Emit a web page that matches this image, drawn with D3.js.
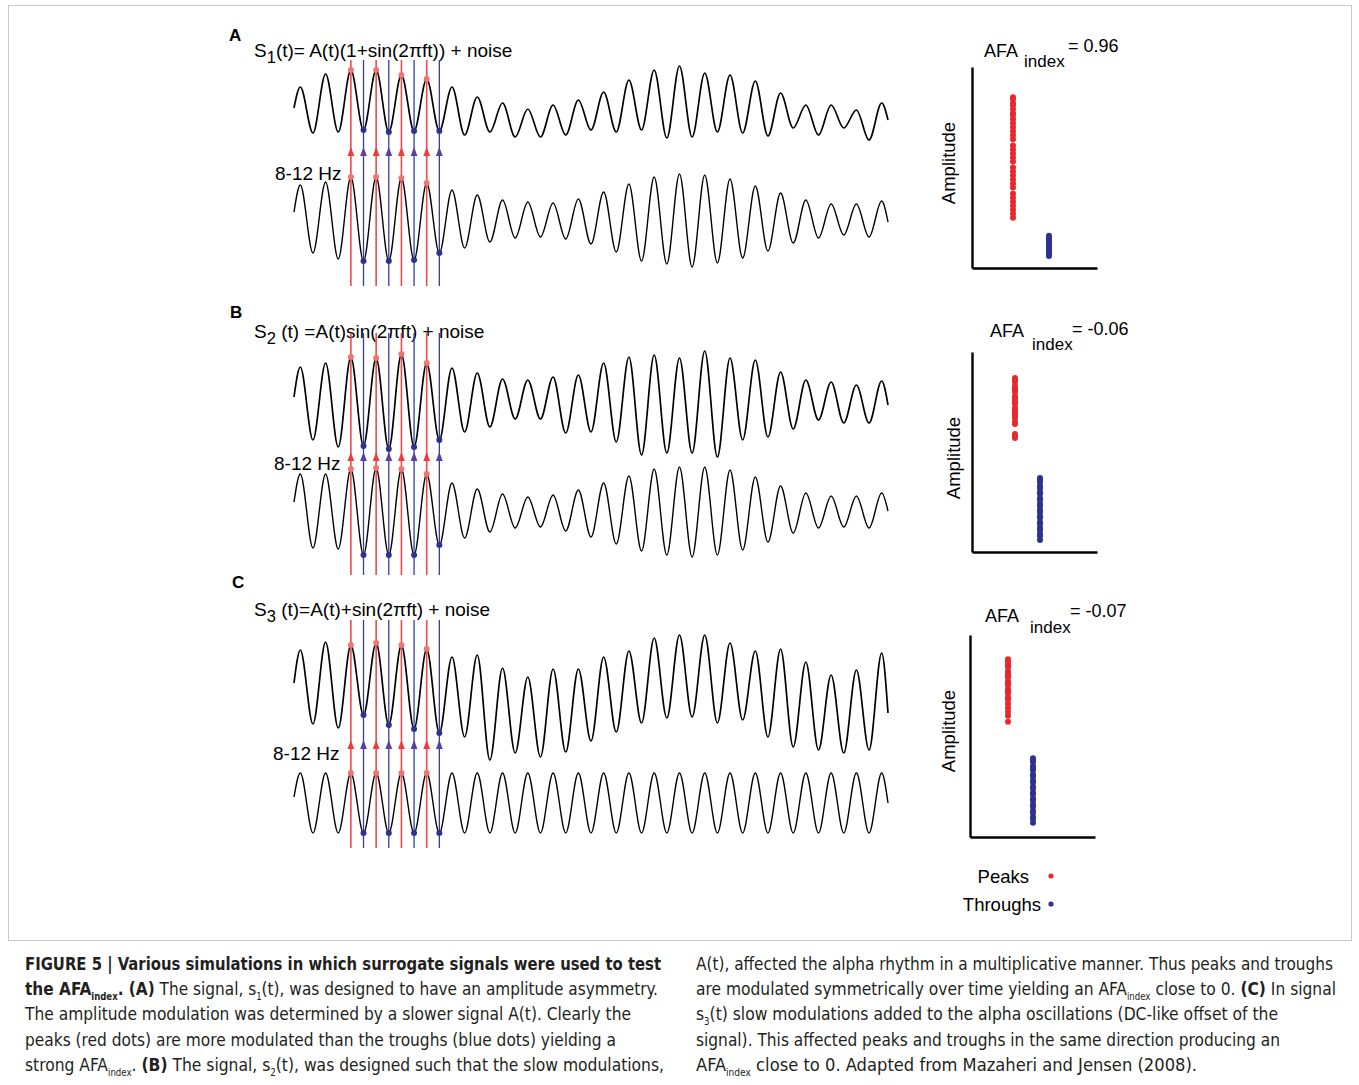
<!DOCTYPE html>
<html>
<head>
<meta charset="utf-8">
<script src="https://cdn.jsdelivr.net/npm/d3@7"></script>
<style>
  body { margin: 0; background: #fff; }
  svg { display: block; font-family: "Liberation Sans", Arial, sans-serif; }
</style>
</head>
<body>
<svg id="fig" width="1359" height="1085"></svg>
<script>
// cycles whose peak (k) and trough (k + 0.5) are marked
var markedCycles = [2, 3, 4, 5]

// signal extrema: peaks at cycle k, troughs at k + 0.5, ends = [start, end]
var rawA_peaks   = [2.3, 3.6, 4.0, 4.0, 3.5, 3.1, 2.3, 1.3, 0.7, 0.1, 0.5, 1.0, 1.8, 3.0, 4.0, 4.4, 3.7, 3.5, 2.9, 1.7, 0.5, 0.5, 0.0, 0.7]
var rawA_troughs = [-2.3, -2.2, -2.0, -2.2, -2.1, -2.1, -2.5, -2.2, -2.7, -2.7, -2.5, -2.0, -2.2, -2.0, -2.8, -2.7, -2.2, -2.3, -2.6, -1.8, -2.5, -1.8, -3.0]
var rawA_ends    = [0.2, -1.0]
var filtA_peaks   = [3.5, 3.8, 4.3, 4.3, 4.2, 3.7, 3.0, 2.5, 2.0, 1.8, 1.7, 2.1, 2.8, 3.6, 4.3, 4.6, 4.5, 4.1, 3.4, 2.7, 2.0, 1.6, 1.6, 1.9]
var filtA_troughs = [-3.3, -3.9, -4.1, -4.1, -4.0, -3.3, -2.8, -2.2, -1.8, -1.7, -1.9, -2.4, -3.2, -4.1, -4.4, -4.7, -4.3, -3.8, -3.1, -2.3, -1.8, -1.5, -1.7]
var filtA_ends    = [0.8, -0.2]

var rawB_peaks   = [3.8, 4.2, 4.8, 4.7, 5.1, 4.2, 3.7, 3.2, 2.6, 2.5, 2.8, 3.0, 4.2, 4.8, 5.0, 4.7, 5.4, 4.7, 4.5, 3.3, 2.5, 2.3, 2.0, 2.4]
var rawB_troughs = [-3.5, -4.2, -4.1, -4.4, -4.2, -3.5, -2.7, -2.2, -1.4, -1.4, -2.8, -2.7, -3.7, -5.0, -4.8, -4.8, -5.2, -3.5, -3.2, -2.4, -1.5, -1.8, -1.8]
var rawB_ends    = [0.8, 0.0]
var filtB_peaks   = [3.8, 3.8, 4.3, 4.4, 4.3, 3.8, 2.9, 2.3, 1.8, 1.5, 1.7, 2.2, 2.9, 3.6, 4.3, 4.5, 4.5, 4.2, 3.5, 2.6, 1.9, 1.6, 1.6, 1.9]
var filtB_troughs = [-3.6, -3.7, -4.3, -4.3, -4.3, -3.3, -2.6, -2.0, -1.6, -1.5, -1.9, -2.5, -3.2, -3.9, -4.3, -4.5, -4.3, -3.8, -3.0, -2.1, -1.6, -1.5, -1.6]
var filtB_ends    = [1.0, 0.1]

var rawC_peaks   = [5.0, 5.8, 5.5, 5.7, 5.5, 5.1, 4.3, 4.5, 3.2, 2.3, 3.1, 3.1, 4.3, 4.9, 6.2, 6.5, 6.5, 5.7, 4.9, 5.1, 3.8, 2.5, 3.0, 4.7]
var rawC_troughs = [-2.4, -2.8, -1.5, -2.5, -2.9, -3.3, -3.7, -6.0, -5.3, -5.7, -5.2, -4.1, -3.2, -2.3, -1.8, -1.7, -2.3, -2.0, -3.7, -4.7, -5.0, -5.3, -5.0]
var rawC_ends    = [1.7, -1.3]
var filtC_peaks   = [3.0, 3.0, 3.0, 3.0, 3.0, 3.0, 3.0, 3.0, 3.0, 3.0, 3.0, 3.0, 3.0, 3.0, 3.0, 3.0, 3.0, 3.0, 3.0, 3.0, 3.0, 3.0, 3.0, 3.0]
var filtC_troughs = [-3.0, -3.0, -3.0, -3.0, -3.0, -3.0, -3.0, -3.0, -3.0, -3.0, -3.0, -3.0, -3.0, -3.0, -3.0, -3.0, -3.0, -3.0, -3.0, -3.0, -3.0, -3.0, -3.0]
var filtC_ends    = [0.6, 0.0]

// amplitude scatter (0-100 of the axis height)
var scatA_peaks    = [85, 84, 82, 81, 79, 77, 76, 74, 72, 70, 68, 66, 64, 61, 59, 57, 55, 53, 50, 48, 46, 44, 42, 40, 37, 35, 33, 31, 29, 27, 25]
var scatA_throughs = [16, 15, 14, 13, 12, 11, 10, 9, 8, 7, 6]
var scatB_peaks    = [87, 86, 85, 83, 82, 81, 80, 78, 77, 76, 75, 74, 72, 71, 70, 69, 68, 67, 65, 64, 59, 58, 57]
var scatB_throughs = [37, 36, 35, 33, 32, 30, 29, 27, 26, 24, 23, 21, 20, 18, 17, 15, 14, 12, 11, 9, 8, 6]
var scatC_peaks    = [88, 87, 86, 85, 84, 82, 81, 80, 79, 77, 76, 75, 73, 72, 71, 69, 68, 66, 64, 62, 60, 57]
var scatC_throughs = [39, 38, 37, 35, 34, 33, 31, 30, 28, 27, 25, 24, 22, 21, 19, 18, 16, 15, 13, 12, 10, 9, 7]
var afaValues = ['= 0.96', '= -0.06', '= -0.07']

var RED = '#ee4a4a', RED_DOT = '#f07470', BLUE = '#3a3c9c', BLUE_DOT = '#2e3192'

var svg = d3.select('#fig')

svg.append('rect').attr('width', 1359).attr('height', 1085).attr('fill', '#fff')
// figure frame
svg.append('rect')
  .attr('x', 8.5).attr('y', 5.5).attr('width', 1343).attr('height', 935)
  .attr('fill', 'none').attr('stroke', '#c8c8c8').attr('stroke-width', 1)

var x = d3.scaleLinear().domain([-0.25, 23.25]).range([294, 888])

function series(peaks, troughs, ends) {
  var pts = [{t: -0.25, v: ends[0]}]
  peaks.forEach(function(p, k) {
    pts.push({t: k, v: p})
    if (k < troughs.length) pts.push({t: k + 0.5, v: troughs[k]})
  })
  pts.push({t: peaks.length - 0.75, v: ends[1]})
  return pts
}

var panels = [
  {letter: 'A', lx: 229, ly: 41, sub: '1', formula: '(t)= A(t)(1+sin(2\u03c0ft)) + noise', fy: 57,
   hzX: 275, hzY: 180, raw: series(rawA_peaks, rawA_troughs, rawA_ends), rawMid: 110,
   filt: series(filtA_peaks, filtA_troughs, filtA_ends), filtMid: 220,
   top: 60, bottom: 286, arrow: 147,
   scat: {ax: 972, at: 67, ab: 268, ar: 1097, px: 1013, tx: 1049, peaks: scatA_peaks, throughs: scatA_throughs,
          afa: [984, 57], idx: [1024, 67], eq: [1068, 52], amp: [955, 163]}},
  {letter: 'B', lx: 230, ly: 318, sub: '2', formula: ' (t) =A(t)sin(2\u03c0ft) + noise', fy: 338,
   hzX: 274, hzY: 470, raw: series(rawB_peaks, rawB_troughs, rawB_ends), rawMid: 405,
   filt: series(filtB_peaks, filtB_troughs, filtB_ends), filtMid: 512,
   top: 333, bottom: 575, arrow: 452,
   scat: {ax: 972, at: 352, ab: 552, ar: 1097, px: 1015, tx: 1040, peaks: scatB_peaks, throughs: scatB_throughs,
          afa: [990, 337], idx: [1032, 350], eq: [1072, 335], amp: [960, 458]}},
  {letter: 'C', lx: 232, ly: 588, sub: '3', formula: ' (t)=A(t)+sin(2\u03c0ft) + noise', fy: 616,
   hzX: 273, hzY: 760, raw: series(rawC_peaks, rawC_troughs, rawC_ends), rawMid: 700,
   filt: series(filtC_peaks, filtC_troughs, filtC_ends), filtMid: 803,
   top: 620, bottom: 848, arrow: 740,
   scat: {ax: 970, at: 635, ab: 837, ar: 1095, px: 1008, tx: 1033, peaks: scatC_peaks, throughs: scatC_throughs,
          afa: [985, 622], idx: [1030, 633], eq: [1070, 617], amp: [955, 731]}}
]

panels.forEach(function(p, pi) {
  var g = svg.append('g').attr('class', 'panel-' + p.letter)
  var yRaw = d3.scaleLinear().domain([-5, 5]).range([p.rawMid + 50, p.rawMid - 50])
  var yFilt = d3.scaleLinear().domain([-5, 5]).range([p.filtMid + 50, p.filtMid - 50])

  // labels
  g.append('text').attr('x', p.lx).attr('y', p.ly)
    .attr('font-size', 17).attr('font-weight', 'bold').text(p.letter)
  var f = g.append('text').attr('x', 254).attr('y', p.fy).attr('font-size', 19)
  f.append('tspan').text('S')
  f.append('tspan').attr('dy', 6).attr('font-size', 16.5).text(p.sub)
  f.append('tspan').attr('dy', -6).text(p.formula)
  g.append('text').attr('x', p.hzX).attr('y', p.hzY).attr('font-size', 19).text('8-12 Hz')

  // marker lines with arrows
  var marks = []
  markedCycles.forEach(function(k) {
    marks.push({t: k, kind: 'peak', raw: p.raw[2 * k + 1].v, filt: p.filt[2 * k + 1].v})
    marks.push({t: k + 0.5, kind: 'trough', raw: p.raw[2 * k + 2].v, filt: p.filt[2 * k + 2].v})
  })
  g.selectAll('line.mark').data(marks).enter().append('line')
    .attr('class', 'mark')
    .attr('x1', function(d) { return x(d.t) }).attr('x2', function(d) { return x(d.t) })
    .attr('y1', p.top).attr('y2', p.bottom)
    .attr('stroke', function(d) { return d.kind == 'peak' ? RED : BLUE })
    .attr('stroke-width', function(d) { return d.kind == 'peak' ? 1.6 : 1.3 })
  g.selectAll('path.arrow').data(marks).enter().append('path')
    .attr('class', 'arrow')
    .attr('d', function(d) {
      var cx = x(d.t)
      return 'M' + cx + ',' + p.arrow + 'L' + (cx - 3.4) + ',' + (p.arrow + 9) + 'L' + (cx + 3.4) + ',' + (p.arrow + 9) + 'Z'
    })
    .attr('fill', function(d) { return d.kind == 'peak' ? '#ee3b3b' : '#5b3f9c' })

  // signals
  var rawLine = d3.line().x(function(d) { return x(d.t) }).y(function(d) { return yRaw(d.v) })
    .curve(d3.curveMonotoneX)
  var filtLine = d3.line().x(function(d) { return x(d.t) }).y(function(d) { return yFilt(d.v) })
    .curve(d3.curveMonotoneX)
  g.append('path').datum(p.raw).attr('d', rawLine)
    .attr('fill', 'none').attr('stroke', '#000').attr('stroke-width', 1.7).attr('stroke-linejoin', 'round')
  g.append('path').datum(p.filt).attr('d', filtLine)
    .attr('fill', 'none').attr('stroke', '#000').attr('stroke-width', 1.4)

  // dots on extrema
  g.selectAll('circle.rawdot').data(marks).enter().append('circle')
    .attr('class', 'rawdot').attr('r', 3)
    .attr('cx', function(d) { return x(d.t) }).attr('cy', function(d) { return yRaw(d.raw) })
    .attr('fill', function(d) { return d.kind == 'peak' ? RED_DOT : BLUE_DOT })
  g.selectAll('circle.filtdot').data(marks).enter().append('circle')
    .attr('class', 'filtdot').attr('r', 3)
    .attr('cx', function(d) { return x(d.t) }).attr('cy', function(d) { return yFilt(d.filt) })
    .attr('fill', function(d) { return d.kind == 'peak' ? RED_DOT : BLUE_DOT })

  // amplitude scatter
  var s = p.scat
  var sy = d3.scaleLinear().domain([0, 100]).range([s.ab, s.at])
  var sx = d3.scaleLinear().domain([0, 1]).range([s.ax, s.ar])
  g.append('g').attr('transform', 'translate(' + s.ax + ',0)')
    .call(d3.axisLeft(sy).tickValues([]).tickSizeOuter(0))
    .select('.domain').attr('stroke-width', 2.4)
  g.append('g').attr('transform', 'translate(0,' + s.ab + ')')
    .call(d3.axisBottom(sx).tickValues([]).tickSizeOuter(0))
    .select('.domain').attr('stroke-width', 2.4)
  g.selectAll('circle.sp').data(s.peaks).enter().append('circle')
    .attr('class', 'sp').attr('r', 3).attr('cx', s.px).attr('cy', function(d) { return sy(d) })
    .attr('fill', '#e8282d')
  g.selectAll('circle.st').data(s.throughs).enter().append('circle')
    .attr('class', 'st').attr('r', 3).attr('cx', s.tx).attr('cy', function(d) { return sy(d) })
    .attr('fill', '#2e3192')
  g.append('text').attr('x', s.afa[0]).attr('y', s.afa[1]).attr('font-size', 18).text('AFA')
  g.append('text').attr('x', s.idx[0]).attr('y', s.idx[1]).attr('font-size', 17).text('index')
  g.append('text').attr('x', s.eq[0]).attr('y', s.eq[1]).attr('font-size', 18).text(afaValues[pi])
  g.append('text').attr('transform', 'translate(' + s.amp[0] + ',' + s.amp[1] + ') rotate(-90)')
    .attr('text-anchor', 'middle').attr('font-size', 18.5).text('Amplitude')
})

// legend
var legend = [{name: 'Peaks', c: '#e8282d', y: 883, x: 1029}, {name: 'Throughs', c: '#2e3192', y: 911, x: 1041}]
svg.selectAll('text.leg').data(legend).enter().append('text')
  .attr('class', 'leg').attr('x', function(d) { return d.x }).attr('y', function(d) { return d.y })
  .attr('text-anchor', 'end').attr('font-size', 18.5).text(function(d) { return d.name })
svg.selectAll('circle.leg').data(legend).enter().append('circle')
  .attr('class', 'leg').attr('r', 2.6).attr('cx', 1051).attr('cy', function(d) { return d.y - 7 })
  .attr('fill', function(d) { return d.c })

// caption: segments [text, style] with b = bold, s = subscript
var captionLeft = [
  [['FIGURE 5 | Various simulations in which surrogate signals were used to test', 'b']],
  [['the AFA', 'b'], ['index', 'sb'], ['. (A)', 'b'], [' The signal, s', 'n'], ['1', 's'], ['(t), was designed to have an amplitude asymmetry.', 'n']],
  [['The amplitude modulation was determined by a slower signal A(t). Clearly the', 'n']],
  [['peaks (red dots) are more modulated than the troughs (blue dots) yielding a', 'n']],
  [['strong AFA', 'n'], ['index', 's'], ['. ', 'n'], ['(B)', 'b'], [' The signal, s', 'n'], ['2', 's'], ['(t), was designed such that the slow modulations,', 'n']]
]
var captionRight = [
  [['A(t), affected the alpha rhythm in a multiplicative manner. Thus peaks and troughs', 'n']],
  [['are modulated symmetrically over time yielding an AFA', 'n'], ['index', 's'], [' close to 0. ', 'n'], ['(C)', 'b'], [' In signal', 'n']],
  [['s', 'n'], ['3', 's'], ['(t) slow modulations added to the alpha oscillations (DC-like offset of the', 'n']],
  [['signal). This affected peaks and troughs in the same direction producing an', 'n']],
  [['AFA', 'n'], ['index', 's'], [' close to 0. Adapted from Mazaheri and Jensen (2008).', 'n']]
]
var leftWidths = [636, 633, 606, 591, 639]
var rightWidths = [637, 640, 582, 584, 501]

function caption(lines, x0, widths) {
  lines.forEach(function(segs, i) {
    var t = svg.append('text').attr('x', x0).attr('y', 970 + i * 25.2)
      .attr('font-size', 18).attr('fill', '#231f20')
      .style('font-family', '"Liberation Sans Narrow", "DejaVu Sans Condensed", "Liberation Sans", sans-serif')
      .attr('textLength', widths[i]).attr('lengthAdjust', 'spacingAndGlyphs')
    var low = false
    segs.forEach(function(sg) {
      var sub = sg[1] == 's' || sg[1] == 'sb'
      var ts = t.append('tspan').text(sg[0])
      if (sub && !low) { ts.attr('dy', 5); low = true }
      else if (!sub && low) { ts.attr('dy', -5); low = false }
      if (sub) ts.attr('font-size', 10)
      if (sg[1] == 'b' || sg[1] == 'sb') ts.attr('font-weight', 'bold')
    })
  })
}
caption(captionLeft, 25, leftWidths)
caption(captionRight, 696, rightWidths)
</script>
</body>
</html>
